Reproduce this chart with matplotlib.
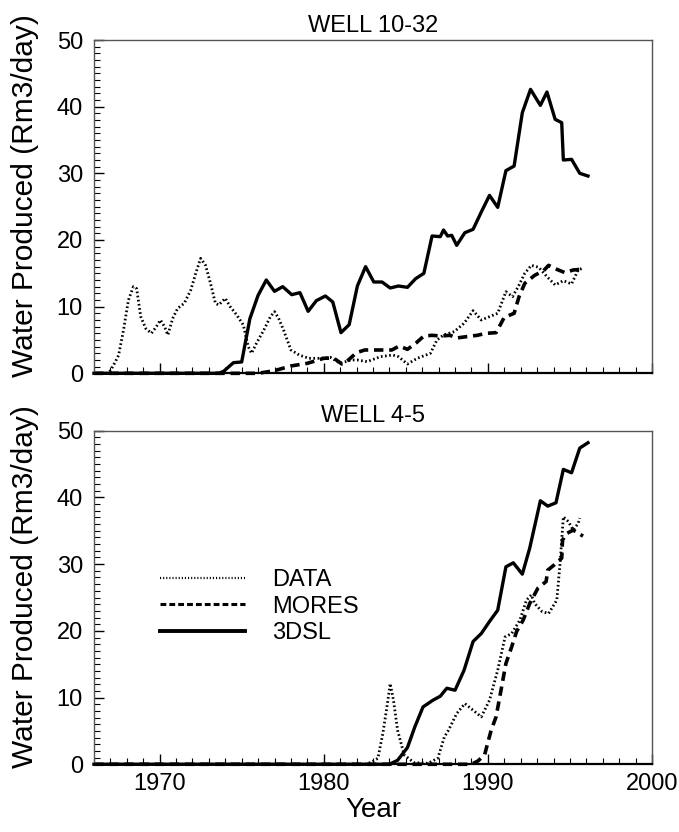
import matplotlib
matplotlib.use('Agg')
import matplotlib.pyplot as plt
from matplotlib.ticker import MultipleLocator

plt.rcParams['font.family'] = ['Liberation Sans', 'DejaVu Sans']

# ---------------- WELL 10-32 ----------------
top_data_x = [1966, 1966.9, 1967.2, 1967.5, 1967.8, 1968.1, 1968.4, 1968.6, 1968.85, 1969.15, 1969.5,
              1969.8, 1970.05, 1970.3, 1970.5, 1970.8, 1971.1, 1971.5, 1971.9, 1972.2, 1972.5, 1972.8,
              1973.1, 1973.4, 1973.6, 1974.0, 1974.3, 1974.7, 1975.1, 1975.4, 1975.6, 1975.9, 1976.35,
              1976.75, 1977.0, 1977.25, 1977.55, 1978.0, 1978.5, 1979.1, 1979.7, 1980.4, 1981.0, 1981.65,
              1982.05, 1982.65, 1983.45, 1984.2, 1984.55, 1985.1, 1985.7, 1986.5, 1986.9, 1987.3, 1987.95,
              1988.55, 1989.1, 1989.6, 1990.1, 1990.6, 1991.1, 1991.5, 1991.85, 1992.25, 1992.65, 1993.1,
              1993.6, 1994.1, 1994.6, 1995.1, 1995.5, 1995.75]
top_data_y = [0, 0, 1.25, 2.7, 6.5, 11.0, 13.0, 12.7, 8.5, 6.75, 6.0,
              7.0, 8.0, 7.0, 5.75, 8.25, 9.75, 10.5, 12.5, 15.0, 17.25, 16.2,
              13.5, 10.5, 10.25, 11.25, 10.0, 8.75, 7.25, 4.0, 3.0, 4.5, 6.5,
              8.5, 9.25, 8.25, 6.5, 3.5, 2.75, 2.25, 2.25, 2.4, 1.5, 2.0,
              2.0, 1.75, 2.5, 2.75, 2.5, 1.4, 2.25, 3.0, 5.0, 5.75, 6.25,
              7.5, 9.4, 8.0, 8.5, 9.0, 12.25, 11.5, 13.0, 15.0, 16.2, 15.9,
              14.5, 13.25, 13.9, 13.4, 15.5, 15.75]

top_mores_x = [1966, 1976.0, 1977.0, 1978.0, 1979.0, 1980.0, 1980.6, 1981.1, 1981.5, 1982.0, 1982.5,
               1983.1, 1983.7, 1984.15, 1984.6, 1985.1, 1985.65, 1986.1, 1986.6, 1987.1, 1987.7, 1988.1,
               1988.7, 1989.35, 1989.9, 1990.5, 1991.0, 1991.6, 1991.9, 1992.25, 1992.85, 1993.4, 1993.7,
               1994.2, 1994.7, 1995.2, 1995.7]
top_mores_y = [0, 0, 0.4, 1.1, 1.5, 2.25, 2.3, 1.4, 2.0, 3.1, 3.5,
               3.5, 3.5, 3.5, 4.1, 3.6, 4.6, 5.6, 5.7, 5.6, 5.7, 5.3,
               5.5, 5.7, 6.0, 6.1, 8.4, 9.0, 11.5, 13.5, 14.7, 15.4, 16.2,
               15.6, 15.1, 15.5, 15.6]

top_3dsl_x = [1966, 1973.6, 1973.9, 1974.5, 1975.0, 1975.5, 1976.0, 1976.5, 1977.0, 1977.5, 1978.05,
              1978.55, 1979.05, 1979.55, 1980.1, 1980.55, 1981.05, 1981.55, 1982.05, 1982.55, 1983.05,
              1983.55, 1984.05, 1984.55, 1985.1, 1985.6, 1986.1, 1986.6, 1987.1, 1987.3, 1987.55, 1987.8,
              1988.1, 1988.6, 1989.1, 1989.6, 1990.1, 1990.6, 1991.1, 1991.6, 1992.1, 1992.6, 1993.2,
              1993.6, 1994.1, 1994.5, 1994.6, 1995.1, 1995.6, 1996.1]
top_3dsl_y = [0, 0, 0.3, 1.6, 1.7, 8.2, 11.7, 14.0, 12.3, 13.0, 11.8,
              12.1, 9.3, 10.9, 11.6, 10.7, 6.1, 7.3, 13.1, 16.0, 13.7,
              13.7, 12.8, 13.1, 12.9, 14.2, 15.0, 20.6, 20.5, 21.5, 20.6, 20.7,
              19.2, 21.1, 21.6, 24.2, 26.7, 24.9, 30.4, 31.1, 39.1, 42.6, 40.2,
              42.2, 38.1, 37.6, 32.0, 32.1, 30.0, 29.6]

# ---------------- WELL 4-5 ----------------
bot_data_x = [1966, 1982.5, 1982.9, 1983.3, 1983.6, 1983.85, 1984.05, 1984.25, 1984.5, 1984.9, 1985.5,
              1986.35, 1986.95, 1987.35, 1987.6, 1988.1, 1988.6, 1989.1, 1989.6, 1990.1, 1990.6, 1991.05,
              1991.45, 1991.95, 1992.35, 1992.65, 1992.85, 1993.3, 1993.7, 1994.2, 1994.4, 1994.6, 1994.9,
              1995.2, 1995.5, 1995.6]
bot_data_y = [0, 0, 0.3, 0.9, 4.6, 8.6, 12.1, 9.6, 5.1, 1.4, 0.25,
              0.15, 0.9, 4.1, 5.1, 7.6, 9.1, 8.1, 7.1, 9.6, 14.1, 19.1,
              19.6, 21.6, 24.6, 25.4, 24.1, 22.9, 22.6, 24.6, 30.1, 37.1, 36.4,
              35.1, 36.1, 36.9]

bot_mores_x = [1966, 1989.0, 1989.4, 1989.8, 1990.2, 1990.5, 1990.8, 1991.1, 1991.45, 1991.75, 1992.15,
               1992.55, 1993.05, 1993.55, 1993.65, 1994.05, 1994.5, 1994.55, 1994.8, 1995.2, 1995.8]
bot_mores_y = [0, 0, 0.5, 1.4, 5.1, 7.1, 11.1, 15.1, 17.6, 19.9, 21.6,
               24.1, 26.4, 27.4, 29.1, 29.9, 30.9, 33.6, 34.6, 35.1, 34.2]

bot_3dsl_x = [1966, 1984.0, 1984.5, 1985.1, 1985.55, 1986.05, 1986.65, 1987.1, 1987.5, 1988.0, 1988.55,
              1989.1, 1989.6, 1990.1, 1990.6, 1991.1, 1991.55, 1992.1, 1992.55, 1993.2, 1993.65, 1994.15,
              1994.6, 1995.1, 1995.6, 1996.1]
bot_3dsl_y = [0, 0, 0.6, 2.5, 5.6, 8.6, 9.6, 10.2, 11.4, 11.1, 14.1,
              18.4, 19.6, 21.4, 23.1, 29.6, 30.2, 28.5, 32.4, 39.5, 38.7, 39.2,
              44.2, 43.7, 47.4, 48.2]

titles = ['WELL 10-32', 'WELL 4-5']
series_labels = ['DATA', 'MORES', '3DSL']
x_ticks = [1970, 1980, 1990, 2000]
y_ticks = [0, 10, 20, 30, 40, 50]

fig = plt.figure(figsize=(6.79, 8.32), dpi=100)
ax_top = fig.add_axes([0.1384, 0.5513, 0.8218, 0.4006])
ax_bot = fig.add_axes([0.1384, 0.0814, 0.8218, 0.4009])

dot_style = dict(color='black', lw=2.0, linestyle=(0, (0.6, 0.9)))
dash_style = dict(color='black', lw=2.6, linestyle=(0, (2.6, 1.6)))
solid_style = dict(color='black', lw=2.4, linestyle='-')

panels = [
    (ax_top, top_data_x, top_data_y, top_mores_x, top_mores_y, top_3dsl_x, top_3dsl_y),
    (ax_bot, bot_data_x, bot_data_y, bot_mores_x, bot_mores_y, bot_3dsl_x, bot_3dsl_y),
]

for i, (ax, dx, dy, mx, my, sx, sy) in enumerate(panels):
    l1, = ax.plot(dx, dy, label=series_labels[0], clip_on=False, **dot_style)
    l2, = ax.plot(mx, my, label=series_labels[1], clip_on=False, **dash_style)
    l3, = ax.plot(sx, sy, label=series_labels[2], clip_on=False, **solid_style)
    ax.set_xlim(1966, 2000)
    ax.set_ylim(0, 50)
    ax.set_xticks(x_ticks)
    ax.set_yticks(y_ticks)
    ax.xaxis.set_minor_locator(MultipleLocator(1))
    ax.yaxis.set_minor_locator(MultipleLocator(1))
    ax.tick_params(which='both', direction='in', top=False, right=False, labelsize=17, colors='black')
    ax.tick_params(which='major', length=7, width=1.0)
    ax.tick_params(which='minor', length=4, width=0.8)
    ax.tick_params(axis='y', pad=8)
    ax.tick_params(axis='x', pad=6)
    for side in ['top', 'right', 'left']:
        ax.spines[side].set_color('#555555')
        ax.spines[side].set_linewidth(1.0)
    ax.spines['bottom'].set_color('black')
    ax.spines['bottom'].set_linewidth(1.6)
    ax.set_ylabel('Water Produced (Rm3/day)', fontsize=21.5)
    ax.yaxis.set_label_coords(-0.099, 0.533)
    ax.set_title(titles[i], fontsize=17, pad=6)
    if i == 0:
        ax.tick_params(axis='x', labelbottom=False)
    else:
        ax.set_xlabel('Year', fontsize=20, labelpad=2)
        leg = ax.legend(handles=[l1, l2, l3], loc='upper left', bbox_to_anchor=(0.118, 0.585),
                        frameon=False, fontsize=17, handlelength=3.6, handletextpad=1.15,
                        labelspacing=0.19, borderaxespad=0, borderpad=0)
        hl = leg.get_lines()
        hl[0].set_linestyle((0, (0.5, 0.9)))
        hl[0].set_linewidth(1.6)
        hl[1].set_linestyle((0, (1.9, 1.0)))
        hl[1].set_linewidth(2.2)
        hl[2].set_linewidth(2.8)

fig.savefig('out.png', dpi=100)
